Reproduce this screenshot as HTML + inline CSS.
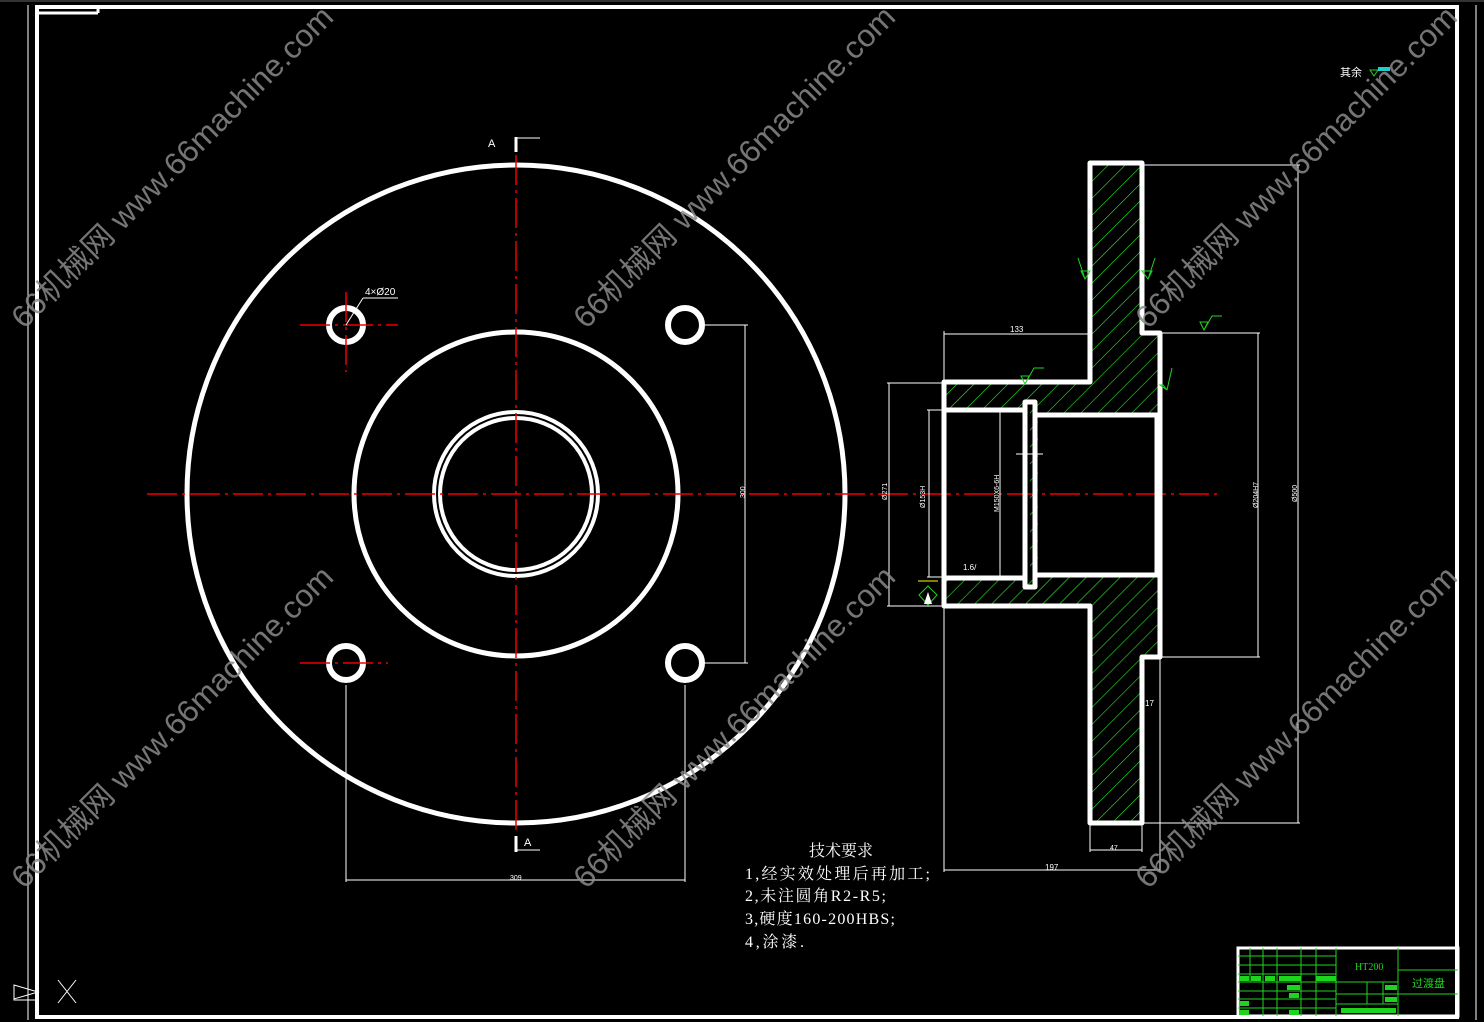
<!DOCTYPE html>
<html><head><meta charset="utf-8"><style>
html,body{margin:0;padding:0;background:#000;width:1484px;height:1022px;overflow:hidden}
svg{display:block}
.wm{font-family:"Liberation Sans","Noto Sans CJK SC",sans-serif;font-size:31px;fill:#8a8a8a;fill-opacity:0.85}
.s{font-family:"Liberation Sans",sans-serif;fill:#fff}
</style></head><body>
<svg width="1484" height="1022" viewBox="0 0 1484 1022" xmlns="http://www.w3.org/2000/svg">
<defs>
<pattern id="h" patternUnits="userSpaceOnUse" width="12" height="12" patternTransform="rotate(45)">
<line x1="0" y1="0" x2="0" y2="12" stroke="#2ee82e" stroke-width="1.2"/>
</pattern>
</defs>
<rect width="1484" height="1022" fill="#000"/>
<line x1="0" y1="1" x2="1484" y2="1" stroke="#666" stroke-width="1"/>
<line x1="28" y1="5" x2="28" y2="1020" stroke="#fff" stroke-width="1"/>
<line x1="1476" y1="5" x2="1476" y2="1020" stroke="#fff" stroke-width="1"/>
<rect x="37" y="7" width="1420" height="1010" fill="none" stroke="#fff" stroke-width="4"/>
<line x1="37" y1="13" x2="98" y2="13" stroke="#fff" stroke-width="3"/>
<line x1="98" y1="5" x2="98" y2="13" stroke="#fff" stroke-width="3"/>
<path d="M14 985 L38 992 L14 999 Z M14 985 V1000 H38" fill="none" stroke="#fff" stroke-width="1"/>
<path d="M58 980 L76 1003 M76 980 L58 1003" stroke="#fff" stroke-width="1"/>

<g fill="none" stroke="#fff" stroke-width="5">
<circle cx="516" cy="494" r="329"/>
<circle cx="516" cy="494" r="162"/>
<circle cx="516" cy="494" r="82" stroke-width="4"/>
<circle cx="516" cy="494" r="76" stroke-width="4"/>
<circle cx="346" cy="325" r="17" stroke-width="6"/>
<circle cx="685" cy="325" r="17" stroke-width="6"/>
<circle cx="346" cy="663" r="17" stroke-width="6"/>
<circle cx="685" cy="663" r="17" stroke-width="6"/>
</g>
<g stroke="#e00" stroke-width="1.5" stroke-dasharray="30,5,3,5">
<line x1="147" y1="494" x2="1220" y2="494"/>
<line x1="516" y1="155" x2="516" y2="835"/>
<line x1="346" y1="292" x2="346" y2="372"/>
<line x1="300" y1="325" x2="398" y2="325"/>
<line x1="300" y1="663" x2="388" y2="663"/>
</g>
<g stroke="#fff" stroke-width="1" fill="none">
<line x1="346" y1="325" x2="363" y2="298"/><line x1="363" y1="298" x2="398" y2="298"/>
<line x1="705" y1="325" x2="748" y2="325"/><line x1="705" y1="663" x2="748" y2="663"/>
<line x1="745" y1="325" x2="745" y2="663"/>
<line x1="346" y1="685" x2="346" y2="882"/><line x1="685" y1="685" x2="685" y2="882"/>
<line x1="346" y1="880" x2="685" y2="880"/>
<line x1="516" y1="137" x2="516" y2="152" stroke-width="3"/><line x1="516" y1="138" x2="540" y2="138"/>
<line x1="516" y1="836" x2="516" y2="852" stroke-width="3"/><line x1="516" y1="850" x2="540" y2="850"/>
</g>
<text x="365" y="295" class="s" font-size="10">4×Ø20</text>
<text x="488" y="147" class="s" font-size="11">A</text>
<text x="524" y="846" class="s" font-size="11">A</text>
<text x="510" y="880" class="s" font-size="7">309</text>
<text x="745" y="498" class="s" font-size="7" transform="rotate(-90 745 498)">300</text>

<path d="M1090 163 H1142 V333 H1160 V415 H1038 V576 H1160 V657 H1142 V823 H1090 V606 H944 V578 H1030 V410 H944 V382 H1090 Z" fill="url(#h)"/>
<g fill="none" stroke="#fff" stroke-width="5" stroke-linejoin="round">
<path d="M1090 163 H1142 V333 H1160 V657 H1142 V823 H1090 V606 H944 V382 H1090 Z"/>
<path d="M946 410 H1025 M946 578 H1025"/>
<path d="M1035 415 H1157 V575 H1035"/>
<rect x="1025" y="402" width="10" height="185"/>
</g>
<g stroke="#fff" stroke-width="1" fill="none">
<line x1="944" y1="331" x2="944" y2="380"/><line x1="944" y1="334" x2="1088" y2="334"/>
<line x1="887" y1="383" x2="944" y2="383"/><line x1="887" y1="606" x2="944" y2="606"/><line x1="889" y1="383" x2="889" y2="606"/>
<line x1="927" y1="410" x2="944" y2="410"/><line x1="927" y1="577" x2="944" y2="577"/><line x1="929" y1="410" x2="929" y2="577"/>
<line x1="1000" y1="412" x2="1000" y2="576"/>
<line x1="1142" y1="165" x2="1300" y2="165"/><line x1="1142" y1="823" x2="1300" y2="823"/><line x1="1298" y1="165" x2="1298" y2="823"/>
<line x1="1162" y1="333" x2="1260" y2="333"/><line x1="1162" y1="657" x2="1260" y2="657"/><line x1="1258" y1="333" x2="1258" y2="657"/>
<line x1="944" y1="606" x2="944" y2="872"/><line x1="1160" y1="657" x2="1160" y2="872"/><line x1="944" y1="870" x2="1160" y2="870"/>
<line x1="1090" y1="823" x2="1090" y2="852"/><line x1="1142" y1="823" x2="1142" y2="852"/><line x1="1090" y1="850" x2="1142" y2="850"/>
<line x1="1016" y1="454" x2="1043" y2="454"/>
</g>
<g class="s" font-size="8">
<text x="1010" y="332">133</text>
<text x="1045" y="870">197</text>
<text x="1110" y="850" font-size="7">47</text>
<text x="1145" y="706">17</text>
<text x="963" y="570">1.6/</text>
<text x="887" y="500" transform="rotate(-90 887 500)" font-size="7">Ø271</text>
<text x="925" y="508" transform="rotate(-90 925 508)" font-size="7">Ø153H</text>
<text x="999" y="512" transform="rotate(-90 999 512)" font-size="7">M150X6-6H</text>
<text x="1258" y="508" transform="rotate(-90 1258 508)" font-size="7">Ø204H7</text>
<text x="1297" y="502" transform="rotate(-90 1297 502)" font-size="7">Ø500</text>
</g>
<g stroke="#1fd41f" stroke-width="1" fill="none">
<path d="M1081 271 H1090 L1085 279 Z M1085 279 L1078 258"/>
<path d="M1152 271 H1142 L1148 279 Z M1148 279 L1155 258"/>
<path d="M1200 322 H1208 L1204 330 Z M1204 330 L1212 316 H1222"/>
<path d="M1021 376 H1029 L1025 384 Z M1025 384 L1034 368 H1044"/>
<path d="M1163 385 H1160 L1167 390 Z M1167 390 L1172 368"/>
<path d="M919 595 L928 586 L937 595 L928 605 Z"/>
</g>
<path d="M924 604 L928 592 L932 604 Z" fill="#fff"/>
<line x1="918" y1="581" x2="938" y2="581" stroke="#ff0" stroke-width="1"/>

<text x="1340" y="76" class="s" font-size="11" font-family="'Liberation Sans','Noto Sans CJK SC',sans-serif">其余</text>
<path d="M1370 70 H1378 L1374 76 Z" fill="none" stroke="#1fd41f"/>
<rect x="1378" y="67" width="12" height="4" fill="#2cc"/>

<g font-size="16" fill="#fff" font-family="'Liberation Serif','Noto Serif CJK SC',serif">
<text x="809" y="856">技术要求</text>
<text x="745" y="879" textLength="185" lengthAdjust="spacing">1,经实效处理后再加工;</text>
<text x="745" y="901" textLength="141" lengthAdjust="spacing">2,未注圆角R2-R5;</text>
<text x="745" y="924" textLength="150" lengthAdjust="spacing">3,硬度160-200HBS;</text>
<text x="745" y="947" textLength="59" lengthAdjust="spacing">4,涂漆.</text>
</g>

<g stroke="#1fd41f" stroke-width="1" fill="none">
<rect x="1238" y="948" width="220" height="68" stroke="#fff" stroke-width="3"/>
<line x1="1336" y1="948" x2="1336" y2="1016"/><line x1="1398" y1="948" x2="1398" y2="1016"/>
<line x1="1398" y1="970" x2="1458" y2="970"/><line x1="1398" y1="994" x2="1458" y2="994"/>
<line x1="1238" y1="956" x2="1336" y2="956"/><line x1="1238" y1="965" x2="1336" y2="965"/><line x1="1238" y1="974" x2="1336" y2="974"/>
<line x1="1238" y1="982" x2="1398" y2="982"/><line x1="1238" y1="991" x2="1336" y2="991"/><line x1="1238" y1="999" x2="1336" y2="999"/><line x1="1238" y1="1008" x2="1336" y2="1008"/>
<line x1="1336" y1="994" x2="1398" y2="994"/><line x1="1336" y1="1004" x2="1398" y2="1004"/>
<line x1="1250" y1="948" x2="1250" y2="982"/><line x1="1263" y1="948" x2="1263" y2="1016"/><line x1="1277" y1="948" x2="1277" y2="1016"/>
<line x1="1301" y1="948" x2="1301" y2="1016"/><line x1="1316" y1="948" x2="1316" y2="1016"/>
<line x1="1367" y1="982" x2="1367" y2="1004"/><line x1="1383" y1="982" x2="1383" y2="1004"/>
</g>
<g fill="#1fd41f">
<rect x="1239" y="976" width="10" height="5"/><rect x="1251" y="976" width="10" height="5"/><rect x="1265" y="976" width="10" height="5"/>
<rect x="1279" y="976" width="22" height="5"/><rect x="1316" y="976" width="20" height="5"/>
<rect x="1287" y="985" width="13" height="5"/><rect x="1289" y="993" width="10" height="5"/><rect x="1239" y="1001" width="10" height="5"/>
<rect x="1289" y="1010" width="10" height="5"/><rect x="1239" y="1010" width="10" height="5"/>
<rect x="1385" y="985" width="12" height="5"/><rect x="1385" y="997" width="12" height="5"/><rect x="1341" y="1008" width="55" height="5"/>
</g>
<text x="1355" y="970" fill="#1fd41f" font-size="10" font-family="Liberation Serif,serif">HT200</text>
<text x="1412" y="987" fill="#1fd41f" font-size="11" font-family="'Liberation Sans','Noto Sans CJK SC',sans-serif">过渡盘</text>

<g class="wm">
<text transform="translate(24,330) rotate(-45)" textLength="440" lengthAdjust="spacingAndGlyphs">66机械网 www.66machine.com</text>
<text transform="translate(586,330) rotate(-45)" textLength="440" lengthAdjust="spacingAndGlyphs">66机械网 www.66machine.com</text>
<text transform="translate(1148,330) rotate(-45)" textLength="440" lengthAdjust="spacingAndGlyphs">66机械网 www.66machine.com</text>
<text transform="translate(24,890) rotate(-45)" textLength="440" lengthAdjust="spacingAndGlyphs">66机械网 www.66machine.com</text>
<text transform="translate(586,890) rotate(-45)" textLength="440" lengthAdjust="spacingAndGlyphs">66机械网 www.66machine.com</text>
<text transform="translate(1148,890) rotate(-45)" textLength="440" lengthAdjust="spacingAndGlyphs">66机械网 www.66machine.com</text>
</g>
</svg>
</body></html>
